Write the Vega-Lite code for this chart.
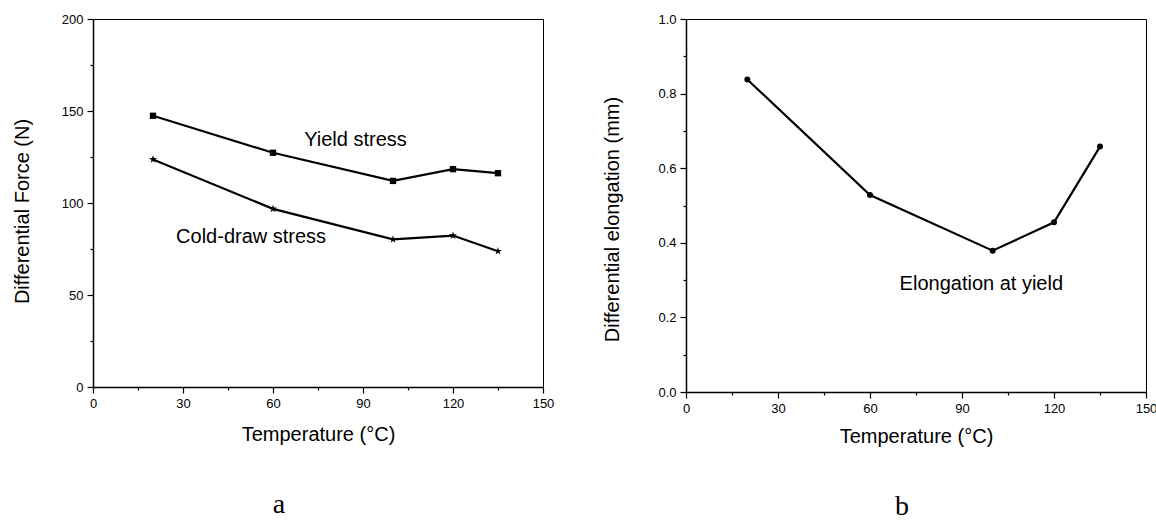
{
  "$schema": "https://vega.github.io/schema/vega-lite/v6.json",
  "autosize": {"type": "none"},
  "padding": {"left": 93, "top": 19, "right": 1063, "bottom": 504},
  "background": "white",
  "bounds": "flush",
  "spacing": 143,
  "config": {
    "view": {"stroke": "black", "strokeWidth": 1},
    "font": "Liberation Sans",
    "axis": {
      "grid": false,
      "domainColor": "black",
      "domainWidth": 1.5,
      "tickColor": "black",
      "tickWidth": 1.2,
      "labelColor": "black",
      "labelFont": "Liberation Sans",
      "labelFontSize": 13,
      "labelPadding": 4,
      "labelFlush": false,
      "labelOverlap": false,
      "titleColor": "black",
      "titleFont": "Liberation Sans",
      "titleFontSize": 20,
      "titleFontWeight": "normal"
    }
  },
  "datasets": {
    "stressA": [
      {"series": "Yield stress", "temperature": 20, "value": 147.4},
      {"series": "Yield stress", "temperature": 60, "value": 127.3},
      {"series": "Yield stress", "temperature": 100, "value": 112.0},
      {"series": "Yield stress", "temperature": 120, "value": 118.4},
      {"series": "Yield stress", "temperature": 135, "value": 116.2},
      {"series": "Cold-draw stress", "temperature": 20, "value": 123.7},
      {"series": "Cold-draw stress", "temperature": 60, "value": 96.8},
      {"series": "Cold-draw stress", "temperature": 100, "value": 80.2},
      {"series": "Cold-draw stress", "temperature": 120, "value": 82.3},
      {"series": "Cold-draw stress", "temperature": 135, "value": 73.8}
    ],
    "notesA": [
      {"label": "Yield stress", "temperature": 87.5, "value": 134.5},
      {"label": "Cold-draw stress", "temperature": 52.7, "value": 81.5}
    ],
    "elongB": [
      {"series": "Elongation at yield", "temperature": 20, "value": 0.838},
      {"series": "Elongation at yield", "temperature": 60, "value": 0.528},
      {"series": "Elongation at yield", "temperature": 100, "value": 0.379},
      {"series": "Elongation at yield", "temperature": 120, "value": 0.455},
      {"series": "Elongation at yield", "temperature": 135, "value": 0.658}
    ],
    "notesB": [
      {"label": "Elongation at yield", "temperature": 96.3, "value": 0.289}
    ]
  },
  "hconcat": [
    {
      "width": 450,
      "height": 368,
      "title": {"text": "a", "orient": "bottom", "frame": "group", "anchor": "middle", "font": "Liberation Serif", "fontSize": 28, "fontWeight": "normal", "color": "black", "dx": -39, "offset": 47},
      "encoding": {
        "x": {
          "field": "temperature", "type": "quantitative",
          "scale": {"domain": [0, 150], "nice": false, "zero": false},
          "axis": {
            "title": "Temperature (°C)",
            "values": [0, 15, 30, 45, 60, 75, 90, 105, 120, 135, 150],
            "labelExpr": "datum.value % 30 === 0 ? datum.label : ''",
            "tickSize": {"condition": {"test": "datum.value % 30 === 0", "value": 6}, "value": 3},
            "titleY": 47,
            "titleBaseline": "middle"
          }
        },
        "y": {
          "field": "value", "type": "quantitative",
          "scale": {"domain": [0, 200], "nice": false},
          "axis": {
            "title": "Differential Force (N)",
            "values": [0, 25, 50, 75, 100, 125, 150, 175, 200],
            "labelExpr": "datum.value % 50 === 0 ? datum.label : ''",
            "tickSize": {"condition": {"test": "datum.value % 50 === 0", "value": 6}, "value": 3},
            "titleX": -71,
            "titleY": 192,
            "titleBaseline": "middle",
            "titleAlign": "center"
          }
        }
      },
      "layer": [
        {
          "data": {"name": "stressA"},
          "mark": {"type": "line", "color": "black", "strokeWidth": 2.2},
          "encoding": {"detail": {"field": "series"}}
        },
        {
          "data": {"name": "stressA"},
          "mark": {"type": "point", "filled": true, "color": "black", "opacity": 1},
          "encoding": {
            "shape": {"field": "series", "scale": {"domain": ["Yield stress", "Cold-draw stress"], "range": ["square", "M0,-1L0.2245,-0.309L0.9511,-0.309L0.3633,0.118L0.5878,0.809L0,0.382L-0.5878,0.809L-0.3633,0.118L-0.9511,-0.309L-0.2245,-0.309Z"]}, "legend": null},
            "size": {"field": "series", "scale": {"domain": ["Yield stress", "Cold-draw stress"], "range": [40, 70]}, "legend": null}
          }
        },
        {
          "data": {"name": "notesA"},
          "mark": {"type": "text", "font": "Liberation Sans", "fontSize": 20, "color": "black", "align": "center", "baseline": "middle"},
          "encoding": {"text": {"field": "label"}}
        }
      ]
    },
    {
      "width": 460,
      "height": 373,
      "title": {"text": "b", "orient": "bottom", "frame": "group", "anchor": "middle", "font": "Liberation Serif", "fontSize": 28, "fontWeight": "normal", "color": "black", "dx": -14, "offset": 47},
      "encoding": {
        "x": {
          "field": "temperature", "type": "quantitative",
          "scale": {"domain": [0, 150], "nice": false, "zero": false},
          "axis": {
            "title": "Temperature (°C)",
            "values": [0, 15, 30, 45, 60, 75, 90, 105, 120, 135, 150],
            "labelExpr": "datum.value % 30 === 0 ? datum.label : ''",
            "tickSize": {"condition": {"test": "datum.value % 30 === 0", "value": 6}, "value": 3},
            "titleY": 44,
            "titleBaseline": "middle"
          }
        },
        "y": {
          "field": "value", "type": "quantitative",
          "scale": {"domain": [0, 1], "nice": false},
          "axis": {
            "title": "Differential elongation (mm)",
            "values": [0, 0.1, 0.2, 0.3, 0.4, 0.5, 0.6, 0.7, 0.8, 0.9, 1.0],
            "labelExpr": "round(datum.value * 10) % 2 === 0 ? format(datum.value, '.1f') : ''",
            "tickSize": {"condition": {"test": "round(datum.value * 10) % 2 === 0", "value": 6}, "value": 3},
            "titleX": -74,
            "titleY": 200,
            "titleBaseline": "middle",
            "titleAlign": "center"
          }
        }
      },
      "layer": [
        {
          "data": {"name": "elongB"},
          "mark": {"type": "line", "color": "black", "strokeWidth": 2.2}
        },
        {
          "data": {"name": "elongB"},
          "mark": {"type": "point", "shape": "circle", "filled": true, "color": "black", "opacity": 1, "size": 36}
        },
        {
          "data": {"name": "notesB"},
          "mark": {"type": "text", "font": "Liberation Sans", "fontSize": 20, "color": "black", "align": "center", "baseline": "middle"},
          "encoding": {"text": {"field": "label"}}
        }
      ]
    }
  ]
}
